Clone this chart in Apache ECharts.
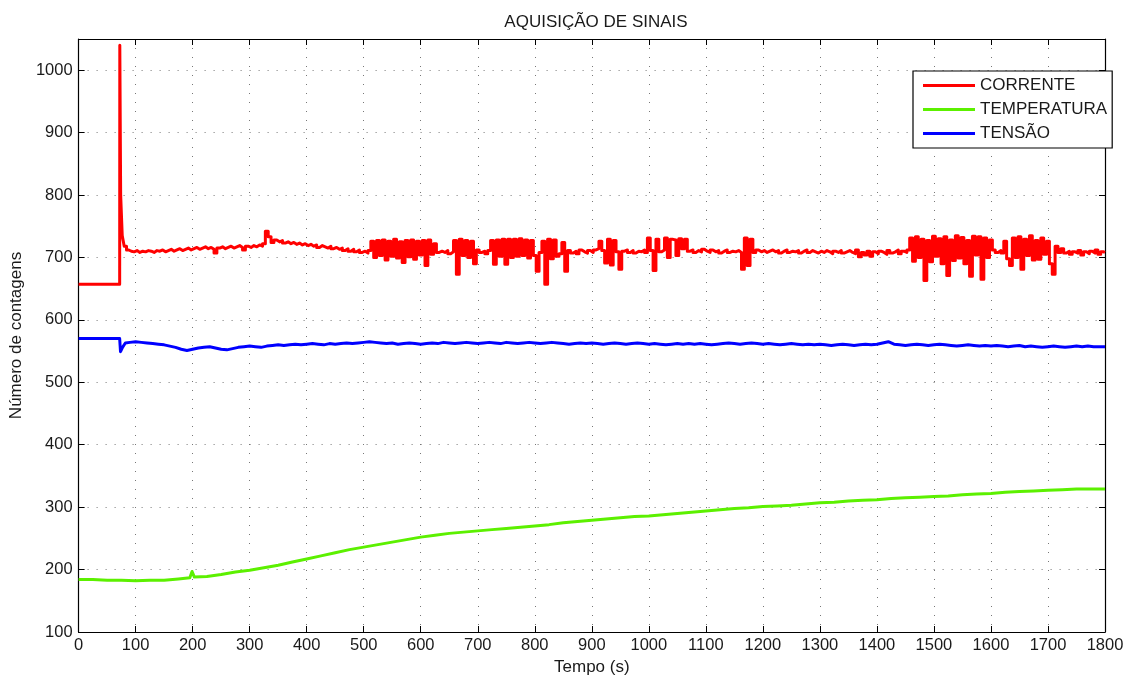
<!DOCTYPE html>
<html>
<head>
<meta charset="utf-8">
<script src="https://cdn.jsdelivr.net/npm/echarts@6/dist/echarts.min.js"></script>
<style>
  html, body { margin: 0; padding: 0; background: #fff; }
  #chart { width: 1130px; height: 681px; }
</style>
</head>
<body>
<div id="chart"></div>
<script>
// Axis ranges and tick labels
const X_MIN = 0, X_MAX = 1800, X_STEP = 100;
const Y_MIN = 100, Y_MAX = 1050, Y_STEP = 100;

// Series names (legend order)
const seriesNames = ['CORRENTE', 'TEMPERATURA', 'TENSÃO'];
const seriesColors = ['#ff0000', '#5cf000', '#0000ff'];

// CORRENTE: initial level, switch-on spike, then samples every 5 s from t = 100 s
const correnteInicio = [[0, 657], [72, 657], [72.5, 1040], [75, 800], [78, 735], [82, 718], [86, 712], [90, 710], [95, 709]];
const correnteT0 = 100, correnteStep = 5;
const correnteValores = [
  711,708,710,709,711,710,708,711,710,712,
  709,711,713,710,712,714,711,713,715,712,
  714,716,713,715,717,714,716,713,707,715,
  717,714,716,718,715,717,719,716,712,718,
  716,719,717,720,718,722,742,733,724,728,
  725,727,723,725,722,724,721,723,720,722,
  719,721,718,720,716,719,717,715,718,714,
  716,713,715,711,714,710,713,709,712,708,
  710,707,711,726,700,727,703,728,696,726,
  702,729,699,725,692,727,701,728,697,726,
  704,727,687,728,705,722,708,710,708,711,
  706,709,727,673,729,703,727,700,726,690,
  712,708,710,706,711,727,689,728,702,729,
  689,729,700,729,702,730,703,728,699,727,
  703,678,708,726,657,729,698,728,702,706,
  724,678,711,707,710,706,712,709,707,711,
  708,712,714,726,711,691,729,688,727,709,
  681,710,712,708,711,707,710,709,712,708,
  731,711,679,729,709,712,731,700,729,728,
  703,730,714,729,710,712,708,711,709,713,
  710,708,712,709,711,707,710,712,708,710,
  709,711,708,681,731,687,729,708,712,709,
  711,708,710,712,709,711,707,710,712,708,
  710,709,711,707,710,712,708,711,709,707,
  710,708,711,709,706,710,708,711,707,709,
  711,708,706,712,701,708,704,710,702,709,
  706,710,708,705,711,707,709,712,706,710,
  708,712,731,694,733,700,729,663,727,693,
  734,702,730,690,733,671,728,695,735,699,
  732,690,727,670,734,704,733,665,731,700,
  728,712,708,711,707,726,698,687,731,700,
  733,681,729,703,735,696,727,697,731,705,
  726,690,673,718,708,714,707,710,705,709,
  707,711,704,709,706,710,707,712,705,709,
  708
];

// TEMPERATURA: [tempo (s), contagens]
const temperatura = [
  [0,184],[25,184],[50,183],[75,183],[100,182],[125,183],[150,183],[175,185],
  [195,187],[199,197],[203,188],[225,189],[250,192],[275,196],[300,199],[325,203],
  [350,207],[375,212],[400,217],[425,222],[450,227],[475,232],[500,236],[525,240],
  [550,244],[575,248],[600,252],[625,255],[650,258],[675,260],[700,262],[725,264],
  [750,266],[775,268],[800,270],[825,272],[850,275],[875,277],[900,279],[925,281],
  [950,283],[975,285],[1000,286],[1025,288],[1050,290],[1075,292],[1100,294],[1125,296],
  [1150,298],[1175,299],[1200,301],[1225,302],[1250,303],[1275,305],[1300,307],[1325,308],
  [1350,310],[1375,311],[1400,312],[1425,314],[1450,315],[1475,316],[1500,317],[1525,318],
  [1550,320],[1575,321],[1600,322],[1625,324],[1650,325],[1675,326],[1700,327],[1725,328],
  [1750,329],[1775,329],[1800,329]
];

// TENSÃO: initial level and dip, then samples every 10 s from t = 90 s
const tensaoInicio = [[0, 570], [72, 570], [73.5, 549], [77, 556], [82, 563]];
const tensaoT0 = 90, tensaoStep = 10;
const tensaoValores = [
  564,565,564,563,562,561,560,558,556,553,
  551,553,555,556,557,555,553,552,554,556,
  557,558,557,556,558,559,560,559,560,561,
  560,561,562,561,560,562,561,562,563,562,
  563,564,565,564,563,562,563,561,562,563,
  562,561,562,563,562,564,563,562,563,564,
  563,562,563,564,563,562,564,563,562,563,
  564,563,562,563,564,563,562,561,562,563,
  562,563,562,561,562,563,562,561,562,563,
  562,561,562,561,560,561,562,561,562,561,
  562,561,560,561,562,563,562,561,562,563,
  562,561,562,561,560,561,562,561,560,561,
  560,561,560,559,560,561,560,559,560,561,
  560,561,563,565,561,560,559,560,561,560,
  559,560,561,560,559,558,559,560,559,558,
  559,558,559,558,557,558,559,557,558,557,
  556,557,558,557,556,557,558,557,558,557,
  557,557
];

// Turn a regularly sampled list into [t, value] pairs
function sampled(t0, step, values) {
  return values.map((v, i) => [t0 + i * step, v]);
}

const corrente = correnteInicio.concat(sampled(correnteT0, correnteStep, correnteValores));
const tensao = tensaoInicio.concat(sampled(tensaoT0, tensaoStep, tensaoValores));

const FONT = 'Liberation Sans, Arial, Helvetica, sans-serif';
const TXT = '#1a1a1a';
const FS = 17, FS_TICK = 16.5;

const chart = echarts.init(document.getElementById('chart'), null, { renderer: 'canvas' });

const gridLine = { show: true, lineStyle: { color: '#777', width: 1, type: [1, 8] } };
const tickIn = { show: true, inside: true, length: 6, lineStyle: { color: '#000', width: 1 } };
const axisLn = { show: true, onZero: false, lineStyle: { color: '#000', width: 1.2 } };
const plain = v => String(v);

chart.setOption({
  animation: false,
  backgroundColor: '#fff',
  title: {
    text: 'AQUISIÇÃO DE SINAIS',
    left: 591, top: 9, textAlign: 'center',
    textStyle: { fontFamily: FONT, fontSize: FS, fontWeight: 'normal', color: TXT }
  },
  legend: {
    data: seriesNames.map(n => ({ name: n, icon: 'rect' })),
    orient: 'vertical',
    left: 913, top: 71,
    itemWidth: 52, itemHeight: 3, itemGap: 7,
    padding: [6, 5, 6, 10],
    borderColor: '#000', borderWidth: 1.2, backgroundColor: '#fff',
    selectedMode: false,
    textStyle: { fontFamily: FONT, fontSize: FS, color: TXT, lineHeight: 17 }
  },
  grid: { left: 77, right: 25, top: 39, bottom: 43, containLabel: false },
  xAxis: [{
    type: 'value', min: X_MIN, max: X_MAX, interval: X_STEP,
    name: 'Tempo (s)', nameLocation: 'middle', nameGap: 27,
    nameTextStyle: { fontFamily: FONT, fontSize: FS, color: TXT },
    axisLine: axisLn, axisTick: tickIn, splitLine: gridLine,
    axisLabel: { fontFamily: FONT, fontSize: FS_TICK, color: TXT, margin: 5, formatter: plain }
  }, {
    type: 'value', position: 'top', min: X_MIN, max: X_MAX, interval: X_STEP,
    axisLine: axisLn, axisTick: tickIn, splitLine: { show: false },
    axisLabel: { show: false }
  }],
  yAxis: [{
    type: 'value', min: Y_MIN, max: Y_MAX, interval: Y_STEP,
    name: 'Número de contagens', nameLocation: 'middle', nameGap: 52, nameRotate: 90,
    nameTextStyle: { fontFamily: FONT, fontSize: FS, color: TXT },
    axisLine: axisLn, axisTick: tickIn, splitLine: gridLine,
    axisLabel: { fontFamily: FONT, fontSize: FS_TICK, color: TXT, margin: 6, showMaxLabel: false, formatter: plain }
  }, {
    type: 'value', position: 'right', min: Y_MIN, max: Y_MAX, interval: Y_STEP,
    axisLine: axisLn, axisTick: tickIn, splitLine: { show: false },
    axisLabel: { show: false }
  }],
  series: [
    { name: seriesNames[0], data: corrente, step: 'middle' },
    { name: seriesNames[1], data: temperatura, step: false },
    { name: seriesNames[2], data: tensao, step: false }
  ].map((s, i) => ({
    name: s.name, type: 'line', data: s.data, step: s.step,
    xAxisIndex: 0, yAxisIndex: 0,
    showSymbol: false, symbol: 'none', smooth: false,
    color: seriesColors[i],
    lineStyle: { color: seriesColors[i], width: 3, join: 'round' },
    emphasis: { disabled: true }
  }))
});
</script>
</body>
</html>
